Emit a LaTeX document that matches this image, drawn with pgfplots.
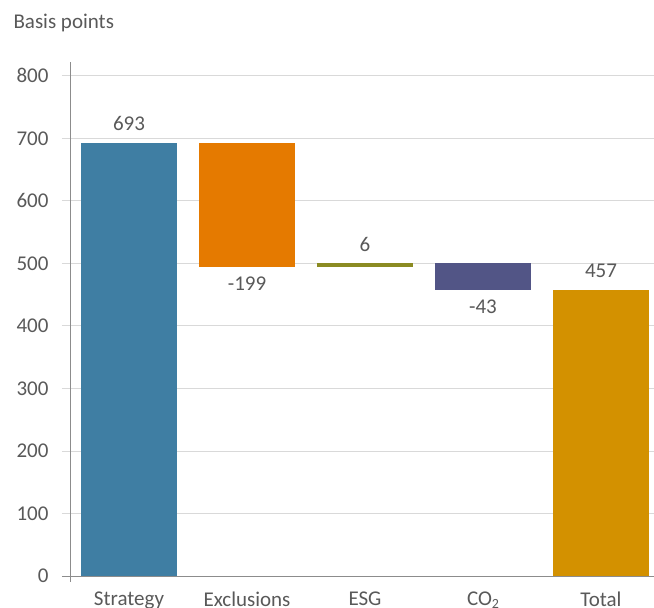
\documentclass[border=0pt]{standalone}
\usepackage{pgfplots}
\pgfplotsset{compat=1.18}
\usepackage{fontspec}
\setmainfont{Carlito}
\definecolor{txt}{HTML}{595959}
\definecolor{axisgray}{HTML}{8C8C8C}
\definecolor{gridgray}{HTML}{D9D9D9}
\definecolor{cStrat}{HTML}{3F7EA3}
\definecolor{cExcl}{HTML}{E57A00}
\definecolor{cESG}{HTML}{8B8B22}
\definecolor{cCO}{HTML}{525586}
\definecolor{cTot}{HTML}{D39100}
\begin{document}
\begin{tikzpicture}[font=\fontsize{21}{25}\selectfont]
\useasboundingbox (-70pt,-32pt) rectangle (584pt,576pt);
\begin{axis}[
  scale only axis, width=584pt, height=514pt,
  xmin=-0.5, xmax=4.449, ymin=0, ymax=822,
  ybar stacked, bar width=96pt,
  axis x line*=bottom, axis y line*=left,
  x axis line style={-, draw=axisgray, line width=0.8pt, shorten <=-8pt},
  y axis line style={-, draw=axisgray, line width=0.8pt, shorten <=-6pt},
  ytick={0,100,...,800},
  ymajorgrids, grid style={draw=gridgray, line width=0.8pt},
  xtick={0,1,2,3,4},
  xticklabels={Strategy,Exclusions,ESG,CO\raisebox{-0.12em}{\fontsize{14}{14}\selectfont 2},Total},
  major x tick style={draw=none},
  major y tick style={draw=gridgray, line width=0.8pt},
  tick align=outside, major tick length=8pt,
  ticklabel style={text=txt},
  yticklabel style={xshift=-10pt},
  xticklabel style={yshift=-4.5pt},
  /pgf/number format/assume math mode=true,
  clip=false,
]
\addplot[fill=none, draw=none] coordinates {(0,0) (1,494) (2,494) (3,457) (4,0)};
\addplot[fill=cStrat, draw=none] coordinates {(0,693) (1,0) (2,0) (3,0) (4,0)};
\addplot[fill=cExcl, draw=none] coordinates {(0,0) (1,199) (2,0) (3,0) (4,0)};
\addplot[fill=cESG, draw=none] coordinates {(0,0) (1,0) (2,6) (3,0) (4,0)};
\addplot[fill=cCO, draw=none] coordinates {(0,0) (1,0) (2,0) (3,43) (4,0)};
\addplot[fill=cTot, draw=none] coordinates {(0,0) (1,0) (2,0) (3,0) (4,457)};
\node[text=txt, anchor=base, yshift=12pt] at (axis cs:0,693) {693};
\node[text=txt, anchor=base, yshift=-23pt] at (axis cs:1,494) {-199};
\node[text=txt, anchor=base, yshift=12pt] at (axis cs:2,500) {6};
\node[text=txt, anchor=base, yshift=-23pt] at (axis cs:3,457) {-43};
\node[text=txt, anchor=base, yshift=13pt] at (axis cs:4,457) {457};
\node[text=txt, anchor=base west] at (rel axis cs:0,1) [xshift=-60pt, yshift=33pt] {Basis points};
\end{axis}
\end{tikzpicture}
\end{document}
